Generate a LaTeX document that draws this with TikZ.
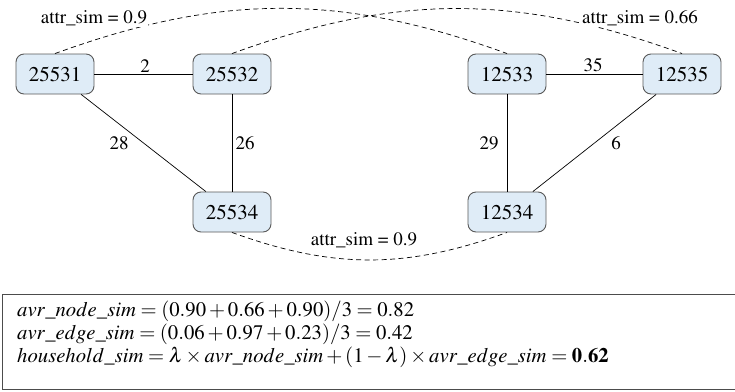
\documentclass[tikz,border=0pt]{standalone}
\usepackage[T1]{fontenc}
\usepackage{mathptmx}
\begin{document}
\begin{tikzpicture}[x=1pt,y=-1pt,
  hh/.style={draw=black!65, line width=0.9pt, rounded corners=8pt,
    minimum width=78pt, minimum height=40pt, inner sep=0pt, font=\fontsize{21}{24}\selectfont},
  edge/.style={draw=black, line width=0.7pt},
  dsh/.style={draw=black, line width=0.7pt, dash pattern=on 5pt off 3.5pt},
  lbl/.style={font=\fontsize{19}{22}\selectfont, inner sep=0pt},
  eqline/.style={anchor=base west, inner sep=0pt, font=\fontsize{20.7}{23}\selectfont}]
\useasboundingbox (0,0) rectangle (735,391);
\definecolor{nodefill}{HTML}{DFECF7}
\tikzset{hh/.append style={fill=nodefill}}
\node[hh] (a) at (55,74) {25531};
\node[hh] (b) at (232,74) {25532};
\node[hh] (c) at (232,212) {25534};
\node[hh] (d) at (507,74) {12533};
\node[hh] (e) at (682,74) {12535};
\node[hh] (f) at (507,212) {12534};
\draw[edge] (a) -- (b);
\draw[edge] (a) -- (c);
\draw[edge] (b) -- (c);
\draw[edge] (d) -- (e);
\draw[edge] (d) -- (f);
\draw[edge] (e) -- (f);
\node[lbl] (l2) at (145,66) {2};
\node[lbl] (l35) at (593,65) {35};
\node[lbl] (l28) at (119,143) {28};
\node[lbl] (l26) at (245,143) {26};
\node[lbl] (l29) at (489,143) {29};
\node[lbl] (l6) at (616,143) {6};
\draw[dsh] (a.north) to[bend left=20] (d.north);
\draw[dsh] (b.north) to[bend left=20] (e.north);
\draw[dsh] (c.south) to[bend right=20] (f.south);
\node[lbl, fill=white, inner sep=1pt] (s1) at (94,18) {attr\_sim = 0.9};
\node[lbl, fill=white, inner sep=1pt] (s2) at (640,18) {attr\_sim = 0.66};
\node[lbl] (s3) at (364,240) {attr\_sim = 0.9};
\draw[draw=black!70, line width=0.9pt] (2,294) rectangle (740,389);
\node[eqline] (eq1) at (17,316) {$avr\_node\_sim = (0.90+0.66+0.90)/3 = 0.82$};
\node[eqline] (eq2) at (17,339) {$avr\_edge\_sim = (0.06+0.97+0.23)/3 = 0.42$};
\node[eqline] (eq3) at (17,362) {$household\_sim = \lambda\times avr\_node\_sim + (1-\lambda)\times avr\_edge\_sim = \mathbf{0.62}$};
\end{tikzpicture}
\end{document}
